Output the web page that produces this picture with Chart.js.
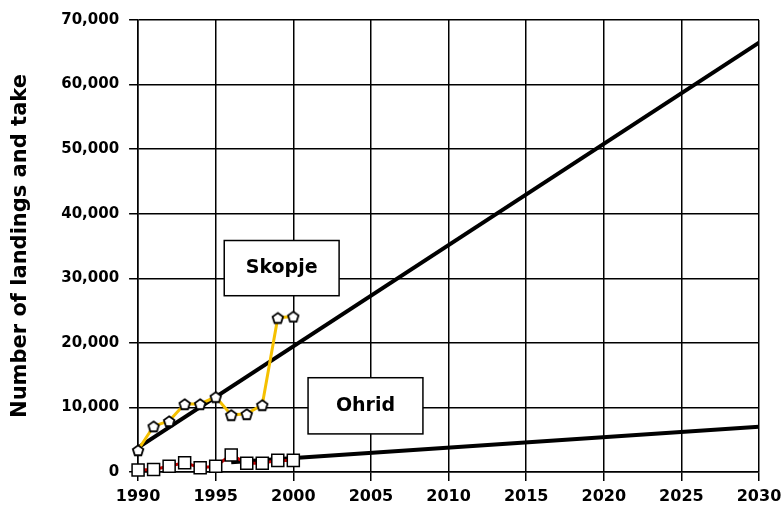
<!DOCTYPE html>
<html>
<head>
<meta charset="utf-8">
<script src="https://cdn.jsdelivr.net/npm/chart.js@4/dist/chart.umd.min.js"></script>
<style>
  html, body { margin: 0; padding: 0; background: #fff; }
  #wrap { width: 783px; height: 513px; }
</style>
</head>
<body>
<div id="wrap"><canvas id="trafficChart" width="783" height="513"></canvas></div>
<script>
// Airport movements, Skopje and Ohrid, with linear trend to 2030
const years = [1990, 1991, 1992, 1993, 1994, 1995, 1996, 1997, 1998, 1999, 2000];
const skopjeValues = [3400, 7100, 7900, 10550, 10550, 11650, 8850, 9000, 10400, 23900, 24100];
const ohridValues = [300, 400, 900, 1450, 650, 900, 2650, 1350, 1350, 1800, 1800];

const skopjeTrendYears = [1990, 2030];
const skopjeTrendValues = [3800, 66500];
const ohridTrendYears = [1996, 2030];
const ohridTrendValues = [1500, 7000];

const xTicks = [1990, 1995, 2000, 2005, 2010, 2015, 2020, 2025, 2030];
const yTicks = [0, 10000, 20000, 30000, 40000, 50000, 60000, 70000];

// label boxes, in data units: [x1, x2, yTop, yBottom]
const boxLabels = ['Skopje', 'Ohrid'];
const boxExtents = [[1995.55, 2002.95, 35850, 27300], [2000.95, 2008.35, 14600, 5900]];

function toPoints(xs, ys) {
    return xs.map((x, i) => ({ x: x, y: ys[i] }));
}

// pentagon marker for Skopje
function makePentagon(size) {
    const c = document.createElement('canvas');
    c.width = size; c.height = size;
    const g = c.getContext('2d');
    const cx = size / 2, cy = size / 2, r = size / 2 - 1.5;
    g.beginPath();
    for (let i = 0; i < 5; i++) {
        const a = -Math.PI / 2 + i * 2 * Math.PI / 5;
        const px = cx + r * Math.cos(a), py = cy + r * Math.sin(a) + 0.8;
        if (i === 0) g.moveTo(px, py); else g.lineTo(px, py);
    }
    g.closePath();
    g.fillStyle = '#fff';
    g.fill();
    g.lineWidth = 1.8;
    g.strokeStyle = '#000';
    g.stroke();
    return c;
}

const labelBoxes = {
    id: 'labelBoxes',
    afterDatasetsDraw(chart) {
        const ctx = chart.ctx;
        const xs = chart.scales.x, ys = chart.scales.y;
        ctx.save();
        boxLabels.forEach((text, i) => {
            const e = boxExtents[i];
            const l = xs.getPixelForValue(e[0]), r = xs.getPixelForValue(e[1]);
            const t = ys.getPixelForValue(e[2]), b = ys.getPixelForValue(e[3]);
            ctx.fillStyle = '#fff';
            ctx.fillRect(l, t, r - l, b - t);
            ctx.lineWidth = 1.5;
            ctx.strokeStyle = '#000';
            ctx.strokeRect(l, t, r - l, b - t);
            ctx.fillStyle = '#000';
            ctx.font = 'bold 19px "DejaVu Sans"';
            ctx.textAlign = 'center';
            ctx.textBaseline = 'middle';
            ctx.fillText(text, (l + r) / 2, (t + b) / 2);
        });
        ctx.restore();
    }
};

const pentagon = makePentagon(14);

new Chart(document.getElementById('trafficChart'), {
    type: 'line',
    data: {
        datasets: [{
            label: 'Skopje',
            data: toPoints(years, skopjeValues),
            borderColor: '#f5c000',
            borderWidth: 3,
            pointStyle: pentagon,
            pointRadius: 7,
            clip: false,
            order: 1
        }, {
            label: 'Ohrid',
            data: toPoints(years, ohridValues),
            borderColor: '#cc0000',
            borderWidth: 3,
            pointStyle: 'rect',
            pointRadius: 8.5,
            pointBackgroundColor: '#fff',
            pointBorderColor: '#000',
            pointBorderWidth: 1.5,
            clip: false,
            order: 2
        }, {
            label: 'Skopje trend',
            data: toPoints(skopjeTrendYears, skopjeTrendValues),
            borderColor: '#000',
            borderWidth: 4,
            pointRadius: 0,
            order: 3
        }, {
            label: 'Ohrid trend',
            data: toPoints(ohridTrendYears, ohridTrendValues),
            borderColor: '#000',
            borderWidth: 4,
            pointRadius: 0,
            order: 4
        }]
    },
    options: {
        responsive: false,
        animation: false,
        layout: { padding: { left: 8, right: 0, top: 20, bottom: 0 } },
        plugins: {
            legend: { display: false },
            tooltip: { enabled: false }
        },
        scales: {
            x: {
                type: 'linear',
                min: 1990,
                max: 2030,
                afterBuildTicks: axis => { axis.ticks = xTicks.map(v => ({ value: v })); },
                afterFit: axis => { axis.paddingRight = 24; },
                ticks: {
                    color: '#000',
                    font: { family: 'DejaVu Sans', size: 16, weight: 'bold', lineHeight: 1 },
                    padding: 8,
                    maxRotation: 0,
                    callback: v => String(v)
                },
                grid: { color: '#000', lineWidth: 1.5, tickLength: 9 },
                border: { color: '#000', width: 1.5 }
            },
            y: {
                min: 0,
                max: 70000,
                afterBuildTicks: axis => { axis.ticks = yTicks.map(v => ({ value: v })); },
                ticks: {
                    color: '#000',
                    font: { family: 'DejaVu Sans', size: 15, weight: 'bold' },
                    padding: 10,
                    callback: v => v.toLocaleString('en-US')
                },
                grid: { color: '#000', lineWidth: 1.5, tickLength: 9 },
                border: { color: '#000', width: 1.5 },
                title: {
                    display: true,
                    text: 'Number of landings and take',
                    color: '#000',
                    font: { family: 'DejaVu Sans', size: 21, weight: 'bold' },
                    padding: { top: 0, bottom: 18 }
                }
            }
        }
    },
    plugins: [labelBoxes]
});
</script>
</body>
</html>
